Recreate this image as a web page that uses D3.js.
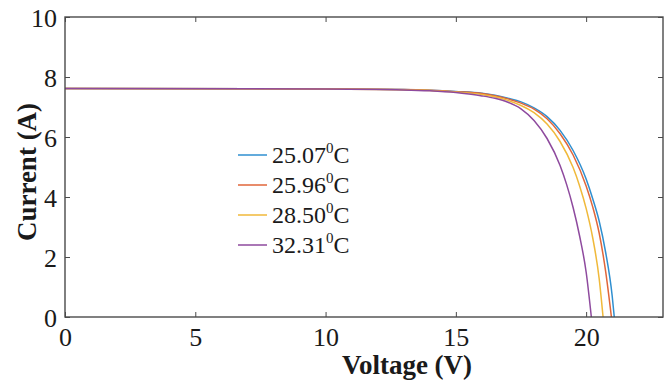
<!DOCTYPE html>
<html>
<head>
<meta charset="utf-8">
<script src="https://cdn.jsdelivr.net/npm/d3@7"></script>
<style>
  html, body { margin: 0; padding: 0; background: #fff; }
  svg { display: block; }
  text { font-family: "Liberation Serif", "Times New Roman", serif; fill: #1a1a1a; }
</style>
</head>
<body>
<svg id="chart" width="672" height="381"></svg>
<script>
// I–V curves of a PV module at four cell temperatures.
const volt_25_07 = [0, 10, 13, 14, 15, 16, 16.5, 17, 17.5, 18, 18.5, 19, 19.5, 20, 20.25, 20.5, 20.75, 21, 21.08];
const curr_25_07 = [7.62, 7.60, 7.58, 7.56, 7.52, 7.46, 7.39, 7.29, 7.17, 6.97, 6.68, 6.22, 5.55, 4.6, 3.95, 3.2, 2.15, 0.7, 0];

const volt_25_96 = [0, 10, 13, 14, 15, 16, 16.5, 17, 17.5, 18, 18.5, 19, 19.5, 20, 20.25, 20.5, 20.75, 20.97];
const curr_25_96 = [7.62, 7.60, 7.58, 7.555, 7.51, 7.45, 7.375, 7.27, 7.13, 6.93, 6.61, 6.11, 5.40, 4.37, 3.68, 2.80, 1.51, 0];

const volt_28_50 = [0, 10, 13, 14, 15, 16, 16.5, 17, 17.5, 18, 18.5, 19, 19.5, 19.75, 20, 20.25, 20.5, 20.65];
const curr_28_50 = [7.62, 7.60, 7.575, 7.55, 7.50, 7.42, 7.34, 7.22, 7.05, 6.81, 6.43, 5.85, 4.98, 4.37, 3.62, 2.65, 1.28, 0];

const volt_32_31 = [0, 10, 13, 14, 15, 15.5, 16, 16.5, 17, 17.5, 18, 18.5, 19, 19.25, 19.5, 19.75, 20, 20.2];
const curr_32_31 = [7.62, 7.60, 7.57, 7.54, 7.48, 7.43, 7.37, 7.29, 7.16, 6.94, 6.55, 5.95, 5.05, 4.42, 3.65, 2.7, 1.5, 0];

const seriesNames = ["25.07", "25.96", "28.50", "32.31"];
const seriesVolts = [volt_25_07, volt_25_96, volt_28_50, volt_32_31];
const seriesCurrs = [curr_25_07, curr_25_96, curr_28_50, curr_32_31];
const seriesColors = ["#2f8fd0", "#e0663a", "#f0b93a", "#8e4a9e"];

const xTicks = [0, 5, 10, 15, 20];
const yTicks = [0, 2, 4, 6, 8, 10];

const svg = d3.select("#chart");
const mLeft = 65, mRight = 663, mTop = 17, mBottom = 317;

const x = d3.scaleLinear().domain([0, 22.95]).range([mLeft, mRight]);
const y = d3.scaleLinear().domain([0, 10]).range([mBottom, mTop]);

const line = d3.line()
  .x(d => x(d[0]))
  .y(d => y(d[1]))
  .curve(d3.curveMonotoneX);

// curves
const plot = svg.append("g");
plot.append("clipPath").attr("id", "clip")
  .append("rect").attr("x", mLeft).attr("y", mTop).attr("width", mRight - mLeft).attr("height", mBottom - mTop);

seriesVolts.forEach((v, i) => {
  const pts = v.map((vv, k) => [vv, seriesCurrs[i][k]]);
  plot.append("path")
    .attr("clip-path", "url(#clip)")
    .attr("d", line(pts))
    .attr("fill", "none")
    .attr("stroke", seriesColors[i])
    .attr("stroke-width", 1.5);
});

// axes box with inward ticks on all four sides
const axisColor = "#4a4a4a";
const tickLen = 5;

const xAxisB = d3.axisBottom(x).tickValues(xTicks).tickSizeInner(-tickLen).tickSizeOuter(0).tickPadding(12);
const xAxisT = d3.axisTop(x).tickValues(xTicks).tickSizeInner(-tickLen).tickSizeOuter(0).tickFormat("");
const yAxisL = d3.axisLeft(y).tickValues(yTicks).tickSizeInner(-tickLen).tickSizeOuter(0).tickPadding(10);
const yAxisR = d3.axisRight(y).tickValues(yTicks).tickSizeInner(-tickLen).tickSizeOuter(0).tickFormat("");

function styleAxis(g) {
  g.select(".domain").remove();
  g.selectAll(".tick line").attr("stroke", axisColor).attr("stroke-width", 1);
  g.selectAll(".tick text")
    .attr("font-size", 26)
    .attr("fill", "#2a2a2a");
}

const gxb = svg.append("g").attr("transform", `translate(0,${mBottom})`).call(xAxisB).call(styleAxis);
gxb.selectAll(".tick text").attr("dy", "0.71em").attr("y", 11);
svg.append("g").attr("transform", `translate(0,${mTop})`).call(xAxisT).call(styleAxis);
const gyl = svg.append("g").attr("transform", `translate(${mLeft},0)`).call(yAxisL).call(styleAxis);
gyl.selectAll(".tick text").attr("x", -8).attr("dy", "0.36em");
svg.append("g").attr("transform", `translate(${mRight},0)`).call(yAxisR).call(styleAxis);

svg.append("rect")
  .attr("x", mLeft).attr("y", mTop)
  .attr("width", mRight - mLeft).attr("height", mBottom - mTop)
  .attr("fill", "none").attr("stroke", axisColor).attr("stroke-width", 1.4);

// axis titles
svg.append("text")
  .attr("x", 407).attr("y", 374)
  .attr("text-anchor", "middle")
  .attr("font-weight", "bold").attr("font-size", 27)
  .text("Voltage (V)");

svg.append("text")
  .attr("transform", "translate(36,172) rotate(-90)")
  .attr("text-anchor", "middle")
  .attr("font-weight", "bold").attr("font-size", 27)
  .text("Current (A)");

// legend
const legend = svg.append("g");
seriesNames.forEach((name, i) => {
  const ly = 155 + i * 30;
  legend.append("line")
    .attr("x1", 238).attr("x2", 267).attr("y1", ly).attr("y2", ly)
    .attr("stroke", seriesColors[i]).attr("stroke-width", 1.5);
  const t = legend.append("text")
    .attr("x", 272).attr("y", ly + 8)
    .attr("font-size", 24);
  t.append("tspan").text(name);
  t.append("tspan").attr("font-size", 15).attr("dy", -10).text("0");
  t.append("tspan").attr("dy", 10).text("C");
});
</script>
</body>
</html>
